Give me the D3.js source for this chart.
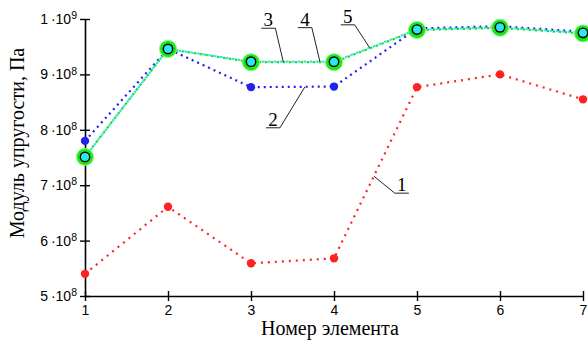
<!DOCTYPE html>
<html>
<head>
<meta charset="utf-8">
<script src="https://cdn.jsdelivr.net/npm/d3@7"></script>
<style>
  body { margin: 0; background: #fff; }
  svg { display: block; }
</style>
</head>
<body>
<svg></svg>
<script>
const width = 588, height = 340;
const margin = {top: 19, right: 5, bottom: 44, left: 85};

// element numbers
const elements = [1, 2, 3, 4, 5, 6, 7];
// modulus of elasticity, Pa
const series1 = [5.40e8, 6.61e8, 5.59e8, 5.68e8, 8.77e8, 9.00e8, 8.55e8];
const series2 = [7.80e8, 9.46e8, 8.77e8, 8.78e8, 9.83e8, 9.87e8, 9.77e8];
const series3 = [7.51e8, 9.46e8, 9.22e8, 9.22e8, 9.80e8, 9.84e8, 9.74e8];
const series4 = [7.51e8, 9.46e8, 9.23e8, 9.23e8, 9.81e8, 9.85e8, 9.75e8];
const series5 = [7.51e8, 9.46e8, 9.23e8, 9.23e8, 9.81e8, 9.85e8, 9.75e8];
const yTicks = [5e8, 6e8, 7e8, 8e8, 9e8, 1e9];

const svg = d3.select("svg")
  .attr("width", width)
  .attr("height", height);

const x = d3.scaleLinear()
  .domain([1, 7])
  .range([margin.left, width - margin.right]);

const y = d3.scaleLinear()
  .domain([5e8, 1e9])
  .range([height - margin.bottom, margin.top]);

// axes
const yAxis = svg.append("g")
  .attr("transform", "translate(" + margin.left + ",0)")
  .call(d3.axisLeft(y).tickValues(yTicks).tickSizeInner(5).tickSizeOuter(0).tickFormat(""));
yAxis.select(".domain").attr("stroke-width", 1.6);
yAxis.selectAll(".tick line").attr("x1", 5).attr("stroke-width", 1.4);

// y tick labels as "N·10^k"
yAxis.selectAll(".tick").append("text")
  .attr("x", -8)
  .attr("dy", "0.32em")
  .attr("text-anchor", "end")
  .attr("fill", "#000")
  .style("font-family", "Liberation Sans, Arial, sans-serif")
  .style("font-size", "14px")
  .each(function(d) {
    const e = Math.floor(Math.log10(d) + 1e-9);
    const m = Math.round(d / Math.pow(10, e));
    const t = d3.select(this);
    t.append("tspan").text(m + "\u2009\u00b710");
    t.append("tspan").attr("dy", "-0.45em").style("font-size", "10.5px").text(e);
  });

const xAxis = svg.append("g")
  .attr("transform", "translate(0," + (height - margin.bottom) + ")")
  .call(d3.axisBottom(x).tickValues(elements).tickSizeInner(5).tickSizeOuter(0).tickFormat(d3.format("d")));
xAxis.select(".domain").attr("stroke-width", 1.6);
xAxis.selectAll(".tick line").attr("y1", -5).attr("stroke-width", 1.4);
xAxis.selectAll(".tick text")
  .attr("y", 9)
  .style("font-family", "Liberation Sans, Arial, sans-serif")
  .style("font-size", "14px")
  .attr("fill", "#000");

// axis titles
svg.append("text")
  .attr("x", (margin.left + width - margin.right) / 2 - 4)
  .attr("y", height - 5)
  .attr("text-anchor", "middle")
  .style("font-family", "Liberation Serif, Times New Roman, serif")
  .style("font-size", "20px")
  .text("Номер элемента");

svg.append("text")
  .attr("transform", "translate(24," + 143 + ") rotate(-90)")
  .attr("text-anchor", "middle")
  .style("font-family", "Liberation Serif, Times New Roman, serif")
  .style("font-size", "20px")
  .text("Модуль упругости, Па");

const line = d3.line()
  .x((d, i) => x(elements[i]))
  .y(d => y(d));

function drawLine(vals, color, dash, offset) {
  svg.append("path")
    .datum(vals)
    .attr("d", line)
    .attr("fill", "none")
    .attr("stroke", color)
    .attr("stroke-width", 2.2)
    .attr("stroke-dasharray", dash)
    .attr("stroke-dashoffset", offset || 0);
}

drawLine(series1, "#f22", "2,5");
drawLine(series2, "#22e", "2,4");
drawLine(series3, "#2d2", "2.5,3.5", 0);
drawLine(series4, "#2ee6f0", "2.5,3.5", 3);

// markers
function dots(vals, r, fill, stroke, sw) {
  svg.append("g").selectAll("circle")
    .data(vals)
    .join("circle")
    .attr("cx", (d, i) => x(elements[i]))
    .attr("cy", d => y(d))
    .attr("r", r)
    .attr("fill", fill)
    .attr("stroke", stroke || "none")
    .attr("stroke-width", sw || 0);
}

dots(series1, 4.2, "#f22");
dots(series2, 4.2, "#22e");
dots(series3, 8.5, "#1be61b", "#7f7", 1);
dots(series4, 5.4, "#000");
dots(series5, 4, "#2ee6f0");

// callout labels
const callouts = [
  {label: "1", vals: series1, at: 4.48, dx: 21, dy: 17, side: 1},
  {label: "2", vals: series2, at: 3.65, dx: -25, dy: 41, side: -1},
  {label: "3", vals: series3, at: 3.39, dx: -8, dy: -34, side: -1},
  {label: "4", vals: series4, at: 3.83, dx: -8, dy: -34, side: -1},
  {label: "5", vals: series5, at: 4.43, dx: -15, dy: -23, side: -1}
];

callouts.forEach(c => {
  const i0 = Math.floor(c.at) - 1;
  const t = c.at - Math.floor(c.at);
  const v = c.vals[i0] + t * (c.vals[i0 + 1] - c.vals[i0]);
  const px = x(c.at), py = y(v);
  const ex = px + c.dx, ey = py + c.dy;
  const bx = ex + c.side * 14;
  svg.append("polyline")
    .attr("points", [[px, py], [ex, ey], [bx, ey]].map(p => p.join(",")).join(" "))
    .attr("fill", "none")
    .attr("stroke", "#222")
    .attr("stroke-width", 1);
  svg.append("text")
    .attr("x", (ex + bx) / 2)
    .attr("y", ey - 2)
    .attr("text-anchor", "middle")
    .style("font-family", "Liberation Serif, Times New Roman, serif")
    .style("font-size", "19px")
    .text(c.label);
});
</script>
</body>
</html>
